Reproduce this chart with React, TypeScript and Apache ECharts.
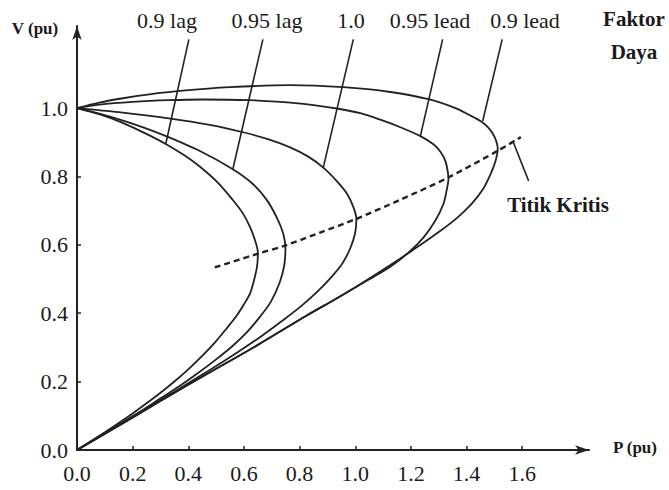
import React, { useEffect, useRef } from "react";
import * as echarts from "echarts";

// P (pu), V (pu) pairs
const lag09 = [[0,1],[0.08,0.982],[0.16,0.958],[0.24,0.928],[0.319,0.895],[0.387,0.861],[0.441,0.829],[0.506,0.782],[0.560,0.731],[0.596,0.692],[0.622,0.652],[0.640,0.613],[0.650,0.577],[0.647,0.536],[0.636,0.496],[0.622,0.458],[0.600,0.426],[0.575,0.394],[0.54,0.358],[0.50,0.3185],[0.45,0.275],[0.40,0.236],[0.35,0.2005],[0.30,0.1675],[0.25,0.1365],[0.20,0.107],[0.15,0.079],[0.10,0.052],[0,0]];
const lag095 = [[0,1],[0.08,0.984],[0.16,0.965],[0.24,0.943],[0.32,0.918],[0.44,0.875],[0.56,0.821],[0.632,0.778],[0.683,0.730],[0.719,0.678],[0.741,0.633],[0.749,0.591],[0.745,0.541],[0.728,0.489],[0.697,0.434],[0.658,0.390],[0.61,0.344],[0.56,0.305],[0.50,0.265],[0.44,0.228],[0.37,0.188],[0.30,0.151],[0.22,0.109],[0.12,0.059],[0,0]];
const unity = [[0,1],[0.15,0.988],[0.33,0.970],[0.477,0.951],[0.593,0.930],[0.686,0.909],[0.766,0.885],[0.831,0.858],[0.885,0.826],[0.932,0.788],[0.971,0.749],[0.993,0.711],[1.004,0.676],[1.0,0.636],[0.982,0.590],[0.953,0.545],[0.91,0.502],[0.86,0.460],[0.80,0.417],[0.74,0.3795],[0.66,0.3315],[0.58,0.2875],[0.48,0.2355],[0.35,0.1705],[0.20,0.097],[0,0]];
const lead095 = [[0,1],[0.08,1.010],[0.20,1.018],[0.33,1.023],[0.45,1.025],[0.62,1.023],[0.766,1.016],[0.856,1.008],[0.939,0.998],[1.018,0.985],[1.090,0.966],[1.162,0.944],[1.234,0.918],[1.281,0.894],[1.306,0.872],[1.324,0.845],[1.332,0.816],[1.335,0.793],[1.328,0.758],[1.317,0.720],[1.288,0.671],[1.245,0.621],[1.191,0.577],[1.126,0.536],[1.065,0.506],[1.007,0.479],[0.928,0.441],[0.827,0.394],[0.647,0.306],[0.467,0.222],[0.286,0.137],[0.142,0.067],[0,0]];
const lead09 = [[0,1],[0.08,1.016],[0.16,1.028],[0.26,1.040],[0.37,1.050],[0.550,1.061],[0.766,1.067],[0.957,1.061],[1.126,1.047],[1.263,1.026],[1.360,1.000],[1.407,0.981],[1.450,0.962],[1.479,0.942],[1.501,0.915],[1.512,0.880],[1.504,0.845],[1.488,0.810],[1.460,0.764],[1.418,0.720],[1.366,0.679],[1.306,0.641],[1.249,0.608],[1.187,0.574],[1.126,0.541],[1.065,0.509],[1.007,0.479],[0.928,0.441],[0.827,0.394],[0.647,0.306],[0.467,0.222],[0.286,0.137],[0.142,0.067],[0,0]];
const critical = [[0.495,0.534],[0.650,0.574],[0.748,0.598],[0.874,0.636],[1.004,0.676],[1.162,0.732],[1.332,0.796],[1.512,0.875],[1.595,0.915]];

// leader lines from labels to curves
const leaders = [
  [[0.402,1.201],[0.319,0.895]],
  [[0.668,1.201],[0.560,0.821]],
  [[0.993,1.201],[0.885,0.826]],
  [[1.314,1.201],[1.234,0.918]],
  [[1.528,1.201],[1.458,0.962]],
  [[1.569,0.898],[1.623,0.787]],
];

const curveLabels = ["0.9 lag", "0.95 lag", "1.0", "0.95 lead", "0.9 lead"];
const xTicks = [0, 0.2, 0.4, 0.6, 0.8, 1.0, 1.2, 1.4, 1.6];
const yTicks = [0, 0.2, 0.4, 0.6, 0.8, 1.0];

const INK = "#222222";
const FONT = "Liberation Serif";

export default function App() {
  const ref = useRef<HTMLDivElement>(null);
  useEffect(() => {
    if (!ref.current) return;
    const chart = echarts.init(ref.current, undefined, { renderer: "svg" });
    const curveStyle = { color: INK, width: 1.8 };
    const curve = (name: string, data: number[][]) => ({
      name,
      type: "line",
      data,
      smooth: 0.3,
      showSymbol: false,
      symbol: "none",
      lineStyle: curveStyle,
      silent: true,
    });
    const labelX = [167, 267, 351, 430, 525];
    const axisLineStyle = { color: INK, width: 2 };
    chart.setOption({
      animation: false,
      backgroundColor: "#ffffff",
      grid: { left: 77, right: 80, top: 26, bottom: 40, containLabel: false, outerBoundsMode: "none" },
      xAxis: {
        type: "value",
        min: 0,
        max: 1.84,
        interval: 0.2,
        splitLine: { show: false },
        axisLine: { show: true, onZero: false, lineStyle: axisLineStyle, symbol: ["none", "arrow"], symbolSize: [7, 14] },
        axisTick: { show: true, inside: true, length: 4, lineStyle: { color: INK, width: 1.5 }, customValues: xTicks },
        axisLabel: { customValues: xTicks, formatter: (v: number) => v.toFixed(1), fontFamily: FONT, fontSize: 22, color: "#1a1a1a", margin: 12 },
      },
      yAxis: {
        type: "value",
        min: 0,
        max: 1.24,
        interval: 0.2,
        splitLine: { show: false },
        axisLine: { show: true, onZero: false, lineStyle: axisLineStyle, symbol: ["none", "arrow"], symbolSize: [7, 14] },
        axisTick: { show: true, inside: true, length: 4, lineStyle: { color: INK, width: 1.5 }, customValues: yTicks },
        axisLabel: { customValues: yTicks, formatter: (v: number) => v.toFixed(1), fontFamily: FONT, fontSize: 22, color: "#1a1a1a", margin: 9 },
      },
      series: [
        curve("0.9 lag", lag09),
        curve("0.95 lag", lag095),
        curve("1.0", unity),
        curve("0.95 lead", lead095),
        curve("0.9 lead", lead09),
        {
          name: "Titik Kritis",
          type: "line",
          data: critical,
          smooth: 0.3,
          showSymbol: false,
          symbol: "none",
          lineStyle: { color: INK, width: 2.4, type: [6, 4] },
          silent: true,
        },
        {
          type: "lines",
          coordinateSystem: "cartesian2d",
          data: leaders.map((c) => ({ coords: c })),
          lineStyle: { color: INK, width: 1.6, opacity: 1 },
          silent: true,
        },
      ],
      graphic: [
        ...curveLabels.map((t, i) => ({
          type: "text",
          x: labelX[i],
          y: 20,
          style: { text: t, fontFamily: FONT, fontSize: 22, fill: "#1a1a1a", textAlign: "center", textVerticalAlign: "middle" },
        })),
        { type: "text", x: 634, y: 19, style: { text: "Faktor", fontFamily: FONT, fontSize: 21, fontWeight: "bold", fill: "#1a1a1a", textAlign: "center", textVerticalAlign: "middle" } },
        { type: "text", x: 634, y: 52, style: { text: "Daya", fontFamily: FONT, fontSize: 21, fontWeight: "bold", fill: "#1a1a1a", textAlign: "center", textVerticalAlign: "middle" } },
        { type: "text", x: 558, y: 205, style: { text: "Titik Kritis", fontFamily: FONT, fontSize: 21, fontWeight: "bold", fill: "#1a1a1a", textAlign: "center", textVerticalAlign: "middle" } },
        { type: "text", x: 35, y: 28, style: { text: "V (pu)", fontFamily: FONT, fontSize: 17, fontWeight: "bold", fill: "#1a1a1a", textAlign: "center", textVerticalAlign: "middle" } },
        { type: "text", x: 635, y: 447, style: { text: "P (pu)", fontFamily: FONT, fontSize: 17, fontWeight: "bold", fill: "#1a1a1a", textAlign: "center", textVerticalAlign: "middle" } },
      ],
    });
    return () => chart.dispose();
  }, []);
  return <div ref={ref} style={{ width: 669, height: 490, position: "absolute", left: 0, top: 0 }} />;
}
